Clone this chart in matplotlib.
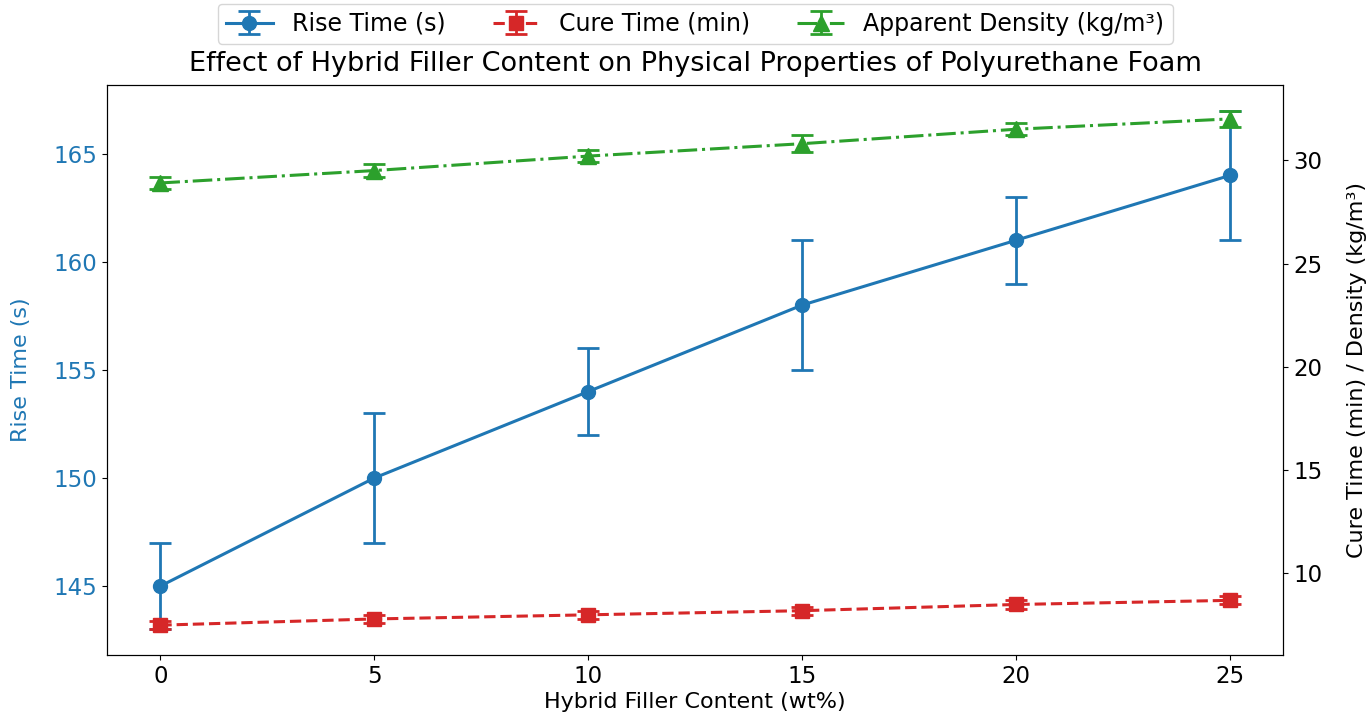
import numpy as np
import matplotlib
matplotlib.use("Agg")
import matplotlib.pyplot as plt

# Filler content (wt%)
filler = [0, 5, 10, 15, 20, 25]

# Rise time (s) with std
rise_time = [145, 150, 154, 158, 161, 164]
rise_err = [2, 3, 2, 3, 2, 3]

# Cure time (min) with std
cure_time = [7.5, 7.8, 8.0, 8.2, 8.5, 8.7]
cure_err = [0.2, 0.2, 0.2, 0.2, 0.2, 0.2]

# Apparent density (kg/m3) with std
density = [28.9, 29.5, 30.2, 30.8, 31.5, 32.0]
density_err = [0.3, 0.3, 0.3, 0.4, 0.3, 0.4]

fig, ax1 = plt.subplots(figsize=(13.71, 7.24), dpi=100)
fig.subplots_adjust(left=0.078, right=0.936, bottom=0.095, top=0.883)

h1 = ax1.errorbar(filler, rise_time, yerr=rise_err, color="tab:blue", marker="o",
                  linestyle="-", linewidth=2.2, markersize=10, capsize=8, capthick=2,
                  elinewidth=2, label="Rise Time (s)")
ax1.set_xlabel("Hybrid Filler Content (wt%)", fontsize=16, labelpad=3)
ax1.set_ylabel("Rise Time (s)", color="tab:blue", fontsize=16, labelpad=16)
ax1.tick_params(axis="y", labelcolor="tab:blue", labelsize=16.5)
ax1.tick_params(axis="x", labelsize=16.5)

ax2 = ax1.twinx()
h2 = ax2.errorbar(filler, cure_time, yerr=cure_err, color="tab:red", marker="s",
                  linestyle="--", linewidth=2.2, markersize=10, capsize=8, capthick=2,
                  elinewidth=2, label="Cure Time (min)")
h3 = ax2.errorbar(filler, density, yerr=density_err, color="tab:green", marker="^",
                  linestyle="-.", linewidth=2.2, markersize=11, capsize=8, capthick=2,
                  elinewidth=2, label="Apparent Density (kg/m³)")
ax2.set_ylabel("Cure Time (min) / Density (kg/m³)", fontsize=16, labelpad=18)
ax2.tick_params(axis="y", labelsize=16.5)

ax1.set_title("Effect of Hybrid Filler Content on Physical Properties of Polyurethane Foam",
              fontsize=19.5, pad=10)
ax1.legend([h1, h2, h3], [h1.get_label(), h2.get_label(), h3.get_label()],
           loc="upper center", bbox_to_anchor=(0.5, 1.163), ncol=3, fontsize=17,
           columnspacing=2.0, borderpad=0.35)

plt.savefig("out.png", dpi=100)
